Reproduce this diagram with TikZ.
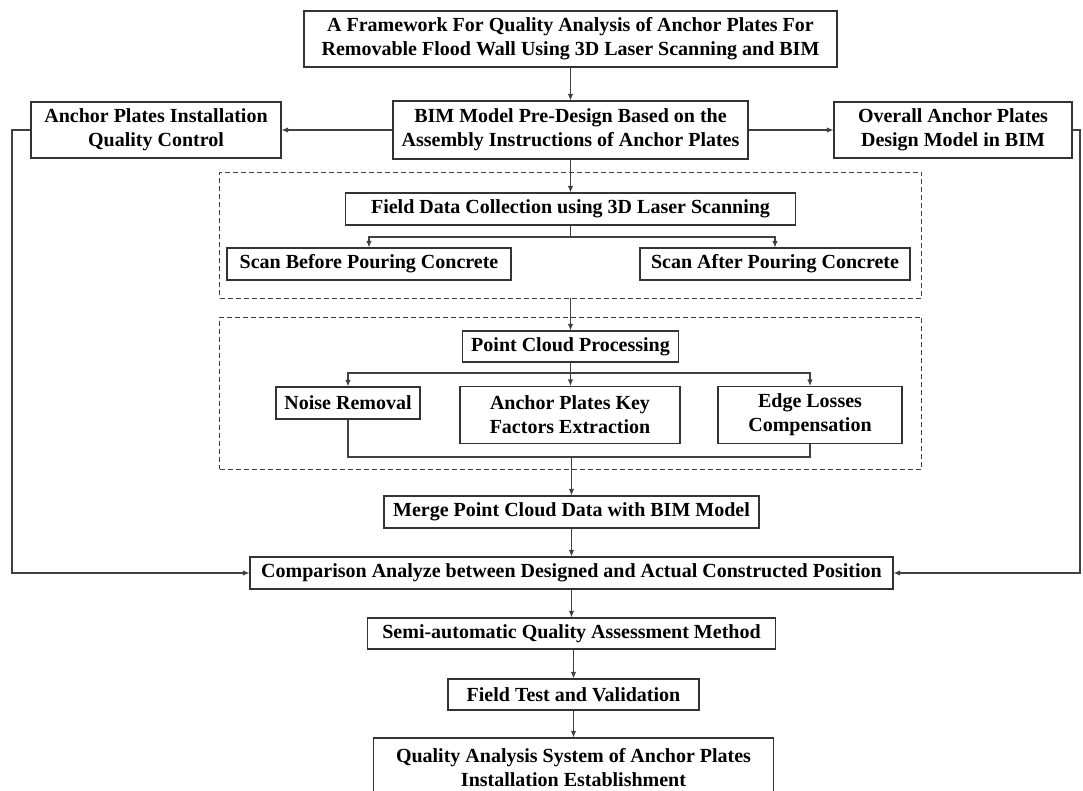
\documentclass[tikz,border=0pt]{standalone}
\usepackage{fontspec}
\setmainfont{Liberation Serif}
\usetikzlibrary{arrows.meta}
\begin{document}
\begin{tikzpicture}[x=1pt, y=-1pt]

      \tikzset{block/.style={draw=black!80, line width=1.1pt, align=center, inner sep=0pt, font=\fontsize{20}{24}\selectfont\bfseries},
               group/.style={draw=black!75, line width=0.9pt, dash pattern=on 5pt off 3pt, inner sep=0pt},
               link/.style={draw=black!75, line width=1.1pt},
               arr/.style={link, -{Latex[length=6.5pt, width=5.5pt]}}}
      \useasboundingbox (0,0) rectangle (1083,790);
%% Groups
      	\node[group, minimum width=702pt, minimum height=126pt] (grp1) at (570.5,235) {};
      	\node[group, minimum width=702pt, minimum height=152pt] (grp2) at (570.5,393) {};
%% Boxes
      	\node[block, minimum width=533pt, minimum height=56pt] (title) at (570.5,39) {A Framework For Quality Analysis of Anchor Plates For\\Removable Flood Wall Using 3D Laser Scanning and BIM};
      	\node[block, minimum width=355pt, minimum height=58pt] (bim) at (570.5,130) {BIM Model Pre-Design Based on the\\Assembly Instructions of Anchor Plates};
      	\node[block, minimum width=250pt, minimum height=56pt] (qc) at (156,130) {Anchor Plates Installation\\Quality Control};
      	\node[block, minimum width=238pt, minimum height=56pt] (design) at (953,130) {Overall Anchor Plates\\Design Model in BIM};
      	\node[block, minimum width=450pt, minimum height=32pt] (field) at (570.5,209) {Field Data Collection using 3D Laser Scanning};
      	\node[block, minimum width=284pt, minimum height=32pt] (scanb) at (369,264) {Scan Before Pouring Concrete};
      	\node[block, minimum width=270pt, minimum height=32pt] (scana) at (775,264) {Scan After Pouring Concrete};
      	\node[block, minimum width=216pt, minimum height=31pt] (pcp) at (570.5,346.5) {Point Cloud Processing};
      	\node[block, minimum width=144pt, minimum height=32pt] (noise) at (348,403) {Noise Removal};
      	\node[block, minimum width=220pt, minimum height=57pt] (key) at (570,415) {Anchor Plates Key\\Factors Extraction};
      	\node[block, minimum width=184pt, minimum height=57pt] (edge) at (810,415) {Edge Losses\\Compensation};
      	\node[block, minimum width=375pt, minimum height=32pt] (merge) at (571.5,512) {Merge Point Cloud Data with BIM Model};
      	\node[block, minimum width=643pt, minimum height=32pt] (comp) at (571.5,573) {Comparison Analyze between Designed and Actual Constructed Position};
      	\node[block, minimum width=408pt, minimum height=31pt] (semi) at (571.5,633.5) {Semi-automatic Quality Assessment Method};
      	\node[block, minimum width=251pt, minimum height=31pt] (ftest) at (573.5,694.5) {Field Test and Validation};
      	\node[block, minimum width=400pt, minimum height=60pt] (final) at (573.5,768) {Quality Analysis System of Anchor Plates\\Installation Establishment};
%% Junctions
      	\coordinate (j1) at (570.5,237);
      	\coordinate (j2) at (570.5,373);
      	\coordinate (j3) at (571.5,457);
      	\coordinate (lw) at (12,130);
      	\coordinate (rw) at (1080,130);
%Edges
		\draw[arr] (title) -- (bim);
		\draw[arr] (bim) -- (qc);
		\draw[arr] (bim) -- (design);
		\draw[arr] (bim) -- (field);
		\draw[link] (field) -- (j1);
		\draw[arr] (j1) -| (scanb);
		\draw[arr] (j1) -| (scana);
		\draw[arr] (grp1.south) -- (pcp);
		\draw[link] (pcp) -- (j2);
		\draw[arr] (j2) -| (noise);
		\draw[arr] (j2) -- (j2 |- key.north);
		\draw[arr] (j2) -| (edge);
		\draw[link] (noise) |- (j3) -| (edge);
		\draw[arr] (j3) -- (merge);
		\draw[arr] (merge) -- (comp);
		\draw[arr] (qc) -- (lw) |- (comp);
		\draw[arr] (design) -- (rw) |- (comp);
		\draw[arr] (comp) -- (comp |- semi.north);
		\draw[arr] (ftest.north |- semi.south) -- (ftest);
		\draw[arr] (ftest) -- (final);

\end{tikzpicture}
\end{document}
